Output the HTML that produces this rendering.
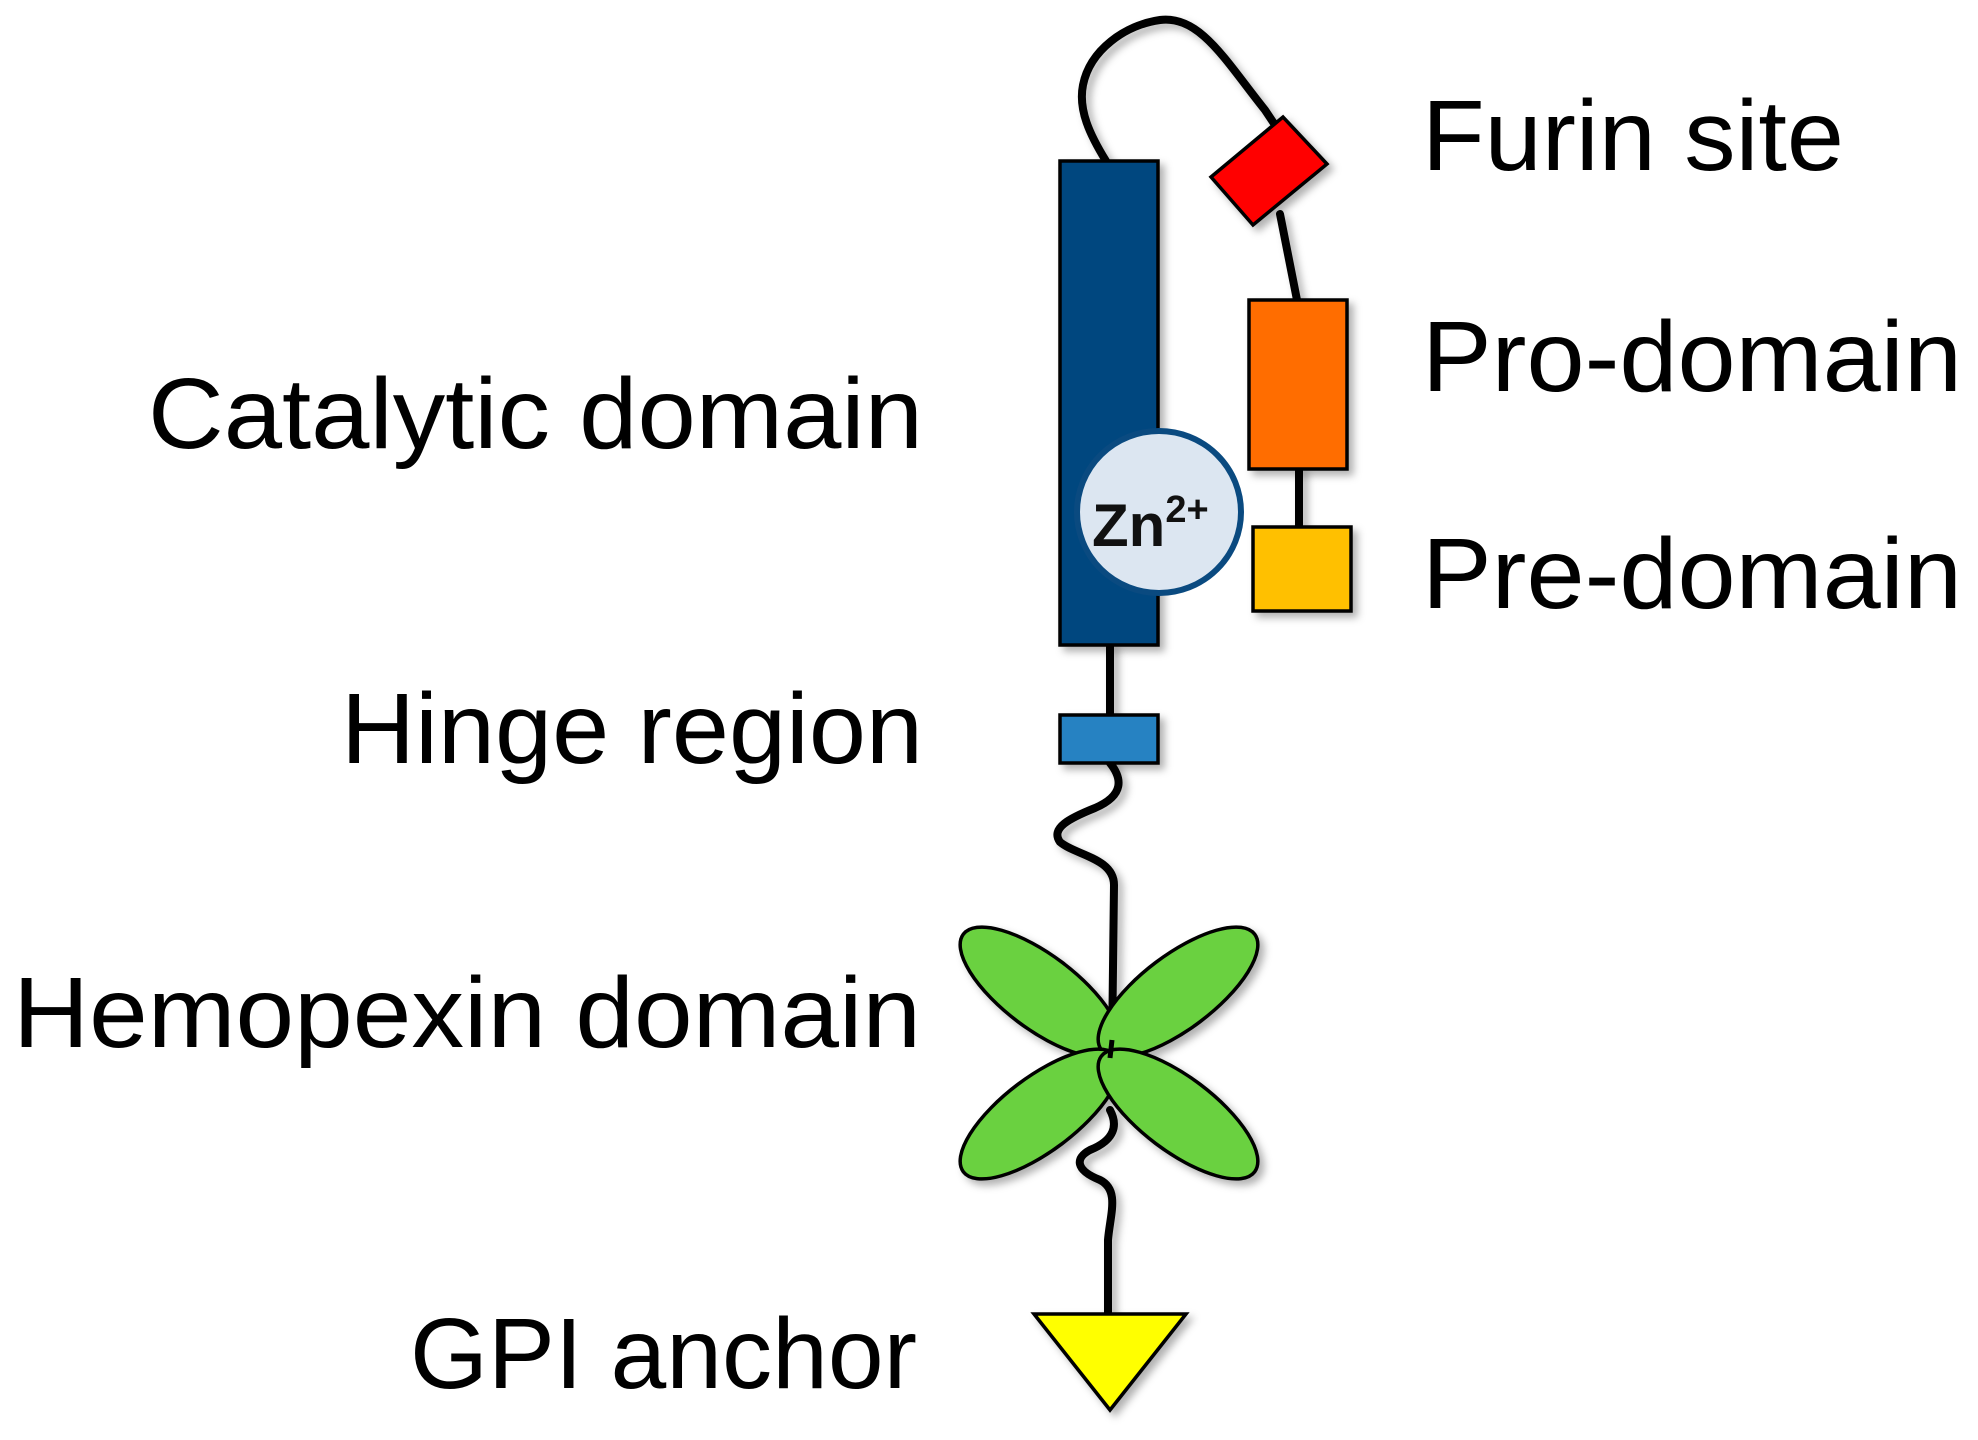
<!DOCTYPE html>
<html><head><style>html,body{margin:0;padding:0;background:#fff}svg{display:block}</style></head>
<body>
<svg width="1978" height="1440" viewBox="0 0 1978 1440" xmlns="http://www.w3.org/2000/svg">
<defs><filter id="sh" x="-20%" y="-20%" width="150%" height="150%"><feDropShadow dx="5" dy="5" stdDeviation="4" flood-color="#000" flood-opacity="0.3"/></filter></defs>
<g font-family="'Liberation Sans', sans-serif" font-size="100" fill="#000">
<text x="1422" y="170" textLength="422" lengthAdjust="spacingAndGlyphs">Furin site</text>
<text x="1422" y="391" textLength="540" lengthAdjust="spacingAndGlyphs">Pro-domain</text>
<text x="1422" y="608" textLength="540" lengthAdjust="spacingAndGlyphs">Pre-domain</text>
<text x="148" y="448" textLength="775" lengthAdjust="spacingAndGlyphs">Catalytic domain</text>
<text x="341" y="763" textLength="582" lengthAdjust="spacingAndGlyphs">Hinge region</text>
<text x="13" y="1047" textLength="908" lengthAdjust="spacingAndGlyphs">Hemopexin domain</text>
<text x="410" y="1388" textLength="507" lengthAdjust="spacingAndGlyphs">GPI anchor</text>
</g>
<g fill="none" stroke="#000" stroke-width="8" stroke-linecap="round" filter="url(#sh)">
<path d="M1106,161 C1090,135 1078,110 1083,85 C1090,50 1125,25 1160,20 C1200,15 1225,60 1265,110 L1275,125"/>
<path d="M1280,214 L1297,300"/>
<path d="M1299,469 L1299,527"/>
<path d="M1110,645 L1110,715"/>
<path d="M1110,763 C1122,778 1125,795 1095,808 C1070,818 1050,828 1060,842 C1075,855 1114,858 1114,885 L1112,1050"/>
<path d="M1110,1110 C1118,1125 1115,1140 1090,1150 C1075,1158 1075,1170 1100,1180 C1120,1190 1110,1215 1108,1240 L1108,1314"/>
</g>
<g stroke="#000" stroke-width="3.5" filter="url(#sh)">
<polygon points="1211,177 1283,117 1327,164 1253,225" fill="#ff0000"/>
<rect x="1249" y="300" width="98" height="169" fill="#ff6d00"/>
<rect x="1253" y="527" width="98" height="84" fill="#ffc000"/>
<rect x="1060" y="161" width="98" height="484" fill="#00467f"/>
<rect x="1060" y="715" width="98" height="48" fill="#2782c2"/>
<ellipse cx="1040" cy="992" rx="96" ry="37" transform="rotate(37 1040 992)" fill="#6bd141"/>
<ellipse cx="1178" cy="992" rx="96" ry="37" transform="rotate(-37 1178 992)" fill="#6bd141"/>
<ellipse cx="1040" cy="1114" rx="96" ry="37" transform="rotate(-37 1040 1114)" fill="#6bd141"/>
<ellipse cx="1178" cy="1114" rx="96" ry="37" transform="rotate(37 1178 1114)" fill="#6bd141"/>
<polygon points="1034,1314 1186,1314 1110,1410" fill="#ffff00"/>
</g>
<path d="M1112,1040 L1110,1058" stroke="#000" stroke-width="5" fill="none"/>
<ellipse cx="1159" cy="512" rx="82" ry="81" fill="#dce6f1" stroke="#0a4a80" stroke-width="6"/>
<text x="1092" y="546" font-family="'Liberation Sans', sans-serif" font-weight="bold" font-size="60" fill="#111">Zn<tspan dy="-24" font-size="38">2+</tspan></text>
</svg>
</body></html>
